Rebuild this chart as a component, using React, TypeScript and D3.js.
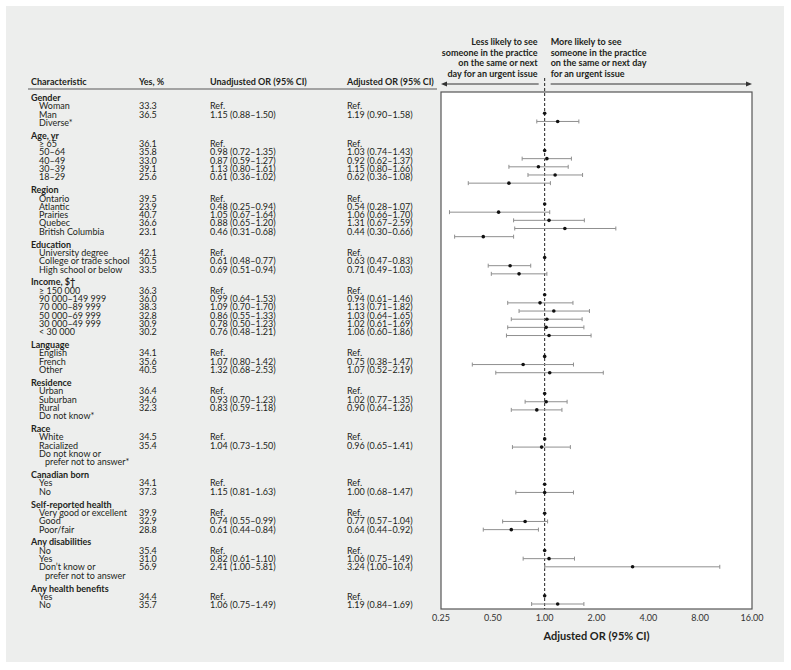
import React from "react";
import * as d3 from "d3";

// ---------- DATA ----------
const groupNames = [
  "Gender", "Age, yr", "Region", "Education", "Income, $†", "Language",
  "Residence", "Race", "Canadian born", "Self-reported health",
  "Any disabilities", "Any health benefits",
];
// group index for every row
const rowGroup = [
  0, 0, 0,
  1, 1, 1, 1, 1,
  2, 2, 2, 2, 2,
  3, 3, 3,
  4, 4, 4, 4, 4, 4,
  5, 5, 5,
  6, 6, 6, 6,
  7, 7, 7,
  8, 8,
  9, 9, 9,
  10, 10, 10,
  11, 11,
];
const rowLabels = [
  "Woman", "Man", "Diverse*",
  "≥ 65", "50–64", "40–49", "30–39", "18–29",
  "Ontario", "Atlantic", "Prairies", "Quebec", "British Columbia",
  "University degree", "College or trade school", "High school or below",
  "≥ 150 000", "90 000–149 999", "70 000–89 999", "50 000–69 999", "30 000–49 999", "< 30 000",
  "English", "French", "Other",
  "Urban", "Suburban", "Rural", "Do not know*",
  "White", "Racialized", "Do not know or\nprefer not to answer*",
  "Yes", "No",
  "Very good or excellent", "Good", "Poor/fair",
  "No", "Yes", "Don’t know or\nprefer not to answer",
  "Yes", "No",
];
const yesPct = [
  "33.3", "36.5", "",
  "36.1", "35.8", "33.0", "39.1", "25.6",
  "39.5", "23.9", "40.7", "36.6", "23.1",
  "42.1", "30.5", "33.5",
  "36.3", "36.0", "38.3", "32.8", "30.9", "30.2",
  "34.1", "35.6", "40.5",
  "36.4", "34.6", "32.3", "",
  "34.5", "35.4", "",
  "34.1", "37.3",
  "39.9", "32.9", "28.8",
  "35.4", "31.0", "56.9",
  "34.4", "35.7",
];
// "ref" = reference category, null = not estimated
type V = number | "ref" | null;
const unadjOR: V[] = [
  "ref", 1.15, null,
  "ref", 0.98, 0.87, 1.13, 0.61,
  "ref", 0.48, 1.05, 0.88, 0.46,
  "ref", 0.61, 0.69,
  "ref", 0.99, 1.09, 0.86, 0.78, 0.76,
  "ref", 1.07, 1.32,
  "ref", 0.93, 0.83, null,
  "ref", 1.04, null,
  "ref", 1.15,
  "ref", 0.74, 0.61,
  "ref", 0.82, 2.41,
  "ref", 1.06,
];
const unadjLo = [
  0, 0.88, 0,
  0, 0.72, 0.59, 0.80, 0.36,
  0, 0.25, 0.67, 0.65, 0.31,
  0, 0.48, 0.51,
  0, 0.64, 0.70, 0.55, 0.50, 0.48,
  0, 0.80, 0.68,
  0, 0.70, 0.59, 0,
  0, 0.73, 0,
  0, 0.81,
  0, 0.55, 0.44,
  0, 0.61, 1.00,
  0, 0.75,
];
const unadjHi = [
  0, 1.50, 0,
  0, 1.35, 1.27, 1.61, 1.02,
  0, 0.94, 1.64, 1.20, 0.68,
  0, 0.77, 0.94,
  0, 1.53, 1.70, 1.33, 1.23, 1.21,
  0, 1.42, 2.53,
  0, 1.23, 1.18, 0,
  0, 1.50, 0,
  0, 1.63,
  0, 0.99, 0.84,
  0, 1.10, 5.81,
  0, 1.49,
];
const adjOR: V[] = [
  "ref", 1.19, null,
  "ref", 1.03, 0.92, 1.15, 0.62,
  "ref", 0.54, 1.06, 1.31, 0.44,
  "ref", 0.63, 0.71,
  "ref", 0.94, 1.13, 1.03, 1.02, 1.06,
  "ref", 0.75, 1.07,
  "ref", 1.02, 0.90, null,
  "ref", 0.96, null,
  "ref", 1.00,
  "ref", 0.77, 0.64,
  "ref", 1.06, 3.24,
  "ref", 1.19,
];
const adjLo = [
  0, 0.90, 0,
  0, 0.74, 0.62, 0.80, 0.36,
  0, 0.28, 0.66, 0.67, 0.30,
  0, 0.47, 0.49,
  0, 0.61, 0.71, 0.64, 0.61, 0.60,
  0, 0.38, 0.52,
  0, 0.77, 0.64, 0,
  0, 0.65, 0,
  0, 0.68,
  0, 0.57, 0.44,
  0, 0.75, 1.00,
  0, 0.84,
];
const adjHi = [
  0, 1.58, 0,
  0, 1.43, 1.37, 1.66, 1.08,
  0, 1.07, 1.70, 2.59, 0.66,
  0, 0.83, 1.03,
  0, 1.46, 1.82, 1.65, 1.69, 1.86,
  0, 1.47, 2.19,
  0, 1.35, 1.26, 0,
  0, 1.41, 0,
  0, 1.47,
  0, 1.04, 0.92,
  0, 1.49, 10.4,
  0, 1.69,
];
const xTicks = [0.25, 0.5, 1, 2, 4, 8, 16];
const columnHeaders = ["Characteristic", "Yes, %", "Unadjusted OR (95% CI)", "Adjusted OR (95% CI)"];
const leftNote = ["Less likely to see", "someone in the practice", "on the same or next", "day for an urgent issue"];
const rightNote = ["More likely to see", "someone in the practice", "on the same or next day", "for an urgent issue"];
const axisTitle = "Adjusted OR (95% CI)";

// ---------- LAYOUT ----------
const W = 791, H = 670;
const FONT = "Lato, 'Open Sans', sans-serif";
const plot = { x0: 441, x1: 752, y0: 92, y1: 609 };
const colX = [31, 139, 210, 347];
const itemX = 39;
const firstLineY = 98;
const lineStep = 8.3;
const groupGap = 12.9;

const fmt = (v: number) => (v >= 10 ? v.toFixed(1) : v.toFixed(2));
const orText = (v: V, lo: number, hi: number) =>
  v === null ? "" : v === "ref" ? "Ref." : `${fmt(v)} (${fmt(lo)}–${fmt(hi)})`;

type Line = { kind: "group" | "item" | "cont"; y: number; text: string; row?: number };

function buildLines() {
  const lines: Line[] = [];
  let y = firstLineY;
  let first = true;
  groupNames.forEach((g, gi) => {
    if (!first) y += groupGap; else first = false;
    lines.push({ kind: "group", y, text: g });
    rowGroup.forEach((rg, ri) => {
      if (rg !== gi) return;
      const parts = rowLabels[ri].split("\n");
      parts.forEach((p, pi) => {
        y += lineStep;
        lines.push({ kind: pi === 0 ? "item" : "cont", y, text: p, row: ri });
      });
    });
  });
  return lines;
}

export default function App() {
  const lines = buildLines();
  const items = lines.filter((l) => l.kind === "item");
  const x = d3.scaleLog().base(2).domain([0.25, 16]).range([plot.x0, plot.x1]);
  const textYs = items.map((l) => l.y);
  const yDot = d3
    .scaleLinear()
    .domain([d3.min(textYs)!, d3.max(textYs)!])
    .range([113.3, 604]);
  const x1 = x(1);
  const arrowY = 84;
  const textColor = "#231f20";

  return (
    <svg width={W} height={H} style={{ position: "absolute", left: 0, top: 0 }}>
      <rect x={6} y={6} width={778} height={656} fill="#edeeed" />
      <rect x={plot.x0} y={plot.y0} width={plot.x1 - plot.x0} height={plot.y1 - plot.y0} fill="#fff" stroke="#555" strokeWidth={1.2} />

      {/* header notes */}
      {leftNote.map((t, i) => (
        <text key={"l" + i} x={x1 - 7} y={45 + i * 10.7} textAnchor="end" fontFamily={FONT} fontWeight={700} fontSize={9} fill={textColor}>{t}</text>
      ))}
      {rightNote.map((t, i) => (
        <text key={"r" + i} x={x1 + 6} y={45 + i * 10.7} textAnchor="start" fontFamily={FONT} fontWeight={700} fontSize={9} fill={textColor}>{t}</text>
      ))}
      <line x1={x1 - 6} x2={plot.x0 + 5} y1={arrowY} y2={arrowY} stroke="#333" strokeWidth={1} />
      <path d={`M${plot.x0},${arrowY} l6,-2.5 l0,5 z`} fill="#333" />
      <line x1={x1 + 6} x2={plot.x1 - 5} y1={arrowY} y2={arrowY} stroke="#333" strokeWidth={1} />
      <path d={`M${plot.x1},${arrowY} l-6,-2.5 l0,5 z`} fill="#333" />

      {/* table header */}
      {columnHeaders.map((t, i) => (
        <text key={"h" + i} x={colX[i]} y={85} fontFamily={FONT} fontWeight={700} fontSize={9} fill={textColor}>{t}</text>
      ))}
      <line x1={28} x2={437} y1={89} y2={89} stroke="#8a8a8a" strokeWidth={1.5} />

      {/* table body */}
      {lines.map((l, i) => {
        const base = l.y + 3;
        if (l.kind === "group")
          return <text key={"g" + i} x={colX[0]} y={base} fontFamily={FONT} fontWeight={700} fontSize={9} fill={textColor}>{l.text}</text>;
        const r = l.row!;
        if (l.kind === "cont")
          return <text key={"c" + i} x={itemX + 6} y={base} fontFamily={FONT} fontSize={9} fill={textColor}>{l.text}</text>;
        return (
          <g key={"i" + i} fontFamily={FONT} fontSize={9} fill={textColor}>
            <text x={itemX} y={base}>{l.text}</text>
            <text x={colX[1]} y={base}>{yesPct[r]}</text>
            <text x={colX[2]} y={base}>{orText(unadjOR[r], unadjLo[r], unadjHi[r])}</text>
            <text x={colX[3]} y={base}>{orText(adjOR[r], adjLo[r], adjHi[r])}</text>
          </g>
        );
      })}

      {/* reference line */}
      <line x1={x1} x2={x1} y1={78} y2={plot.y1} stroke="#222" strokeWidth={1} strokeDasharray="3,2" />

      {/* forest marks */}
      {items.map((l, i) => {
        const r = l.row!;
        const v = adjOR[r];
        if (v === null) return null;
        const yy = yDot(l.y);
        if (v === "ref") return <circle key={"d" + i} cx={x(1)} cy={yy} r={1.8} fill="#111" />;
        return (
          <g key={"d" + i}>
            <line x1={x(adjLo[r])} x2={x(adjHi[r])} y1={yy} y2={yy} stroke="#8f8f8f" strokeWidth={1} />
            <line x1={x(adjLo[r])} x2={x(adjLo[r])} y1={yy - 2} y2={yy + 2} stroke="#8f8f8f" strokeWidth={1} />
            <line x1={x(adjHi[r])} x2={x(adjHi[r])} y1={yy - 2} y2={yy + 2} stroke="#8f8f8f" strokeWidth={1} />
            <circle cx={x(v)} cy={yy} r={1.8} fill="#111" />
          </g>
        );
      })}

      {/* x axis */}
      {xTicks.map((t) => (
        <text key={"t" + t} x={x(t)} y={621} textAnchor="middle" fontFamily={FONT} fontSize={9} fill="#333">{t.toFixed(2)}</text>
      ))}
      <text x={(plot.x0 + plot.x1) / 2} y={640} textAnchor="middle" fontFamily={FONT} fontWeight={700} fontSize={11} fill={textColor}>{axisTitle}</text>
    </svg>
  );
}
